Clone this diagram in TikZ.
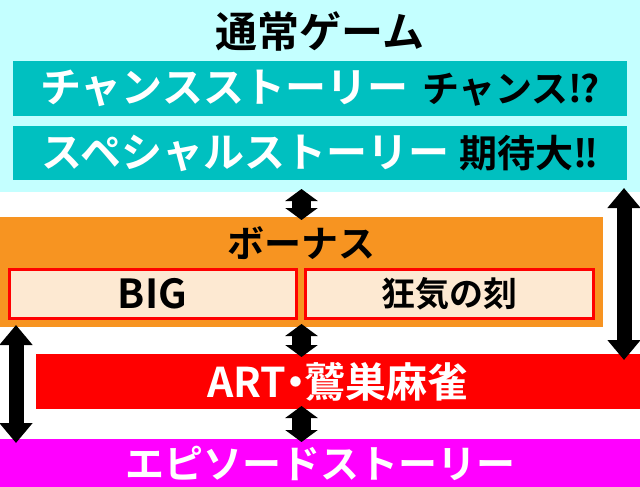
\documentclass[tikz,border=0pt]{standalone}
\usepackage{fontspec}
\usepackage{xcolor}
\usepackage{tikz}
\usetikzlibrary{arrows.meta}
\setmainfont{Noto Sans CJK JP}[BoldFont={Noto Sans CJK JP Bold}]

\definecolor{normalbg}{RGB}{196,255,255}
\definecolor{storyteal}{RGB}{0,192,192}
\definecolor{bonusorange}{RGB}{247,148,33}
\definecolor{bonuspeach}{RGB}{253,233,210}
\definecolor{episodemag}{RGB}{255,0,255}

\newcommand{\fsz}[1]{\fontsize{#1}{#1}\selectfont\bfseries}

\tikzset{
    panel/.style = {rectangle, inner sep=0pt, outer sep=0pt},
    subpanel/.style = {panel, fill=bonuspeach, draw=red, line width=3pt},
    bigarrow/.style = {line width=15pt, {Triangle[width=32pt,length=20pt]}-{Triangle[width=32pt,length=20pt]}},
    smallarrow/.style = {line width=19pt, shorten <=-3pt, shorten >=-3pt,
        {Triangle[width=32pt,length=12pt]}-{Triangle[width=32pt,length=12pt]}}
}

\begin{document}
\begin{tikzpicture}[x=1pt, y=-1pt]
        \useasboundingbox (0,0) rectangle (640,487);
        \begin{scope}[every node/.style = {panel}]
            \node[fill=normalbg, minimum width=640pt, minimum height=192pt] (normal) at (320,96) {};
            \node (title) at (320,31) {\fsz{42}通常ゲーム};
            \node[fill=storyteal, minimum width=614pt, minimum height=55pt] (chance) at (320,88.5)
                {{\color{white}\fsz{41}チャンスストーリー}\hspace{14pt}{\fsz{37}チャンス!\kern-2pt?}};
            \node[fill=storyteal, minimum width=614pt, minimum height=54pt] (special) at (320,153)
                {{\color{white}\fsz{41}スペシャルストーリー}\hspace{10pt}{\fsz{38}期待大!\kern-3pt!}};
            \node[fill=bonusorange, minimum width=603pt, minimum height=110pt] (bonus) at (301.5,272) {};
            \node (bonustitle) at (301.5,243) {\fsz{37}ボーナス};
            \node[subpanel, minimum width=287pt, minimum height=49pt] (big) at (152.5,293.5) {\fsz{40}BIG};
            \node[subpanel, minimum width=288pt, minimum height=49pt] (kyoki) at (449,293.5) {\fsz{34}狂気の刻};
            \node[fill=red, minimum width=604pt, minimum height=55pt, text=white] (art) at (338,381.5)
                {\fsz{41}ART\hspace{-11pt}・\hspace{-12pt}鷲巣麻雀};
            \node[fill=episodemag, minimum width=640pt, minimum height=48pt, text=white] (episode) at (320,463) {\fsz{39}エピソードストーリー};
        \end{scope}
        \begin{scope}
            \path[smallarrow] (normal.south -| bonus.north) edge (bonus.north);
            \path[smallarrow] (bonus.south) edge (bonus.south |- art.north);
            \path[smallarrow] (art.south -| bonus.south) edge (episode.north -| bonus.south);
            \path[bigarrow, shorten <=-2pt, shorten >=-4pt] ([xshift=16pt]bonus.south west) edge ([xshift=16pt]episode.north west);
            \path[bigarrow, shorten <=-4pt, shorten >=-6pt] ([xshift=-16pt]normal.south east) edge ([xshift=-16pt]art.north east);
        \end{scope}
    \end{tikzpicture}
\end{document}
